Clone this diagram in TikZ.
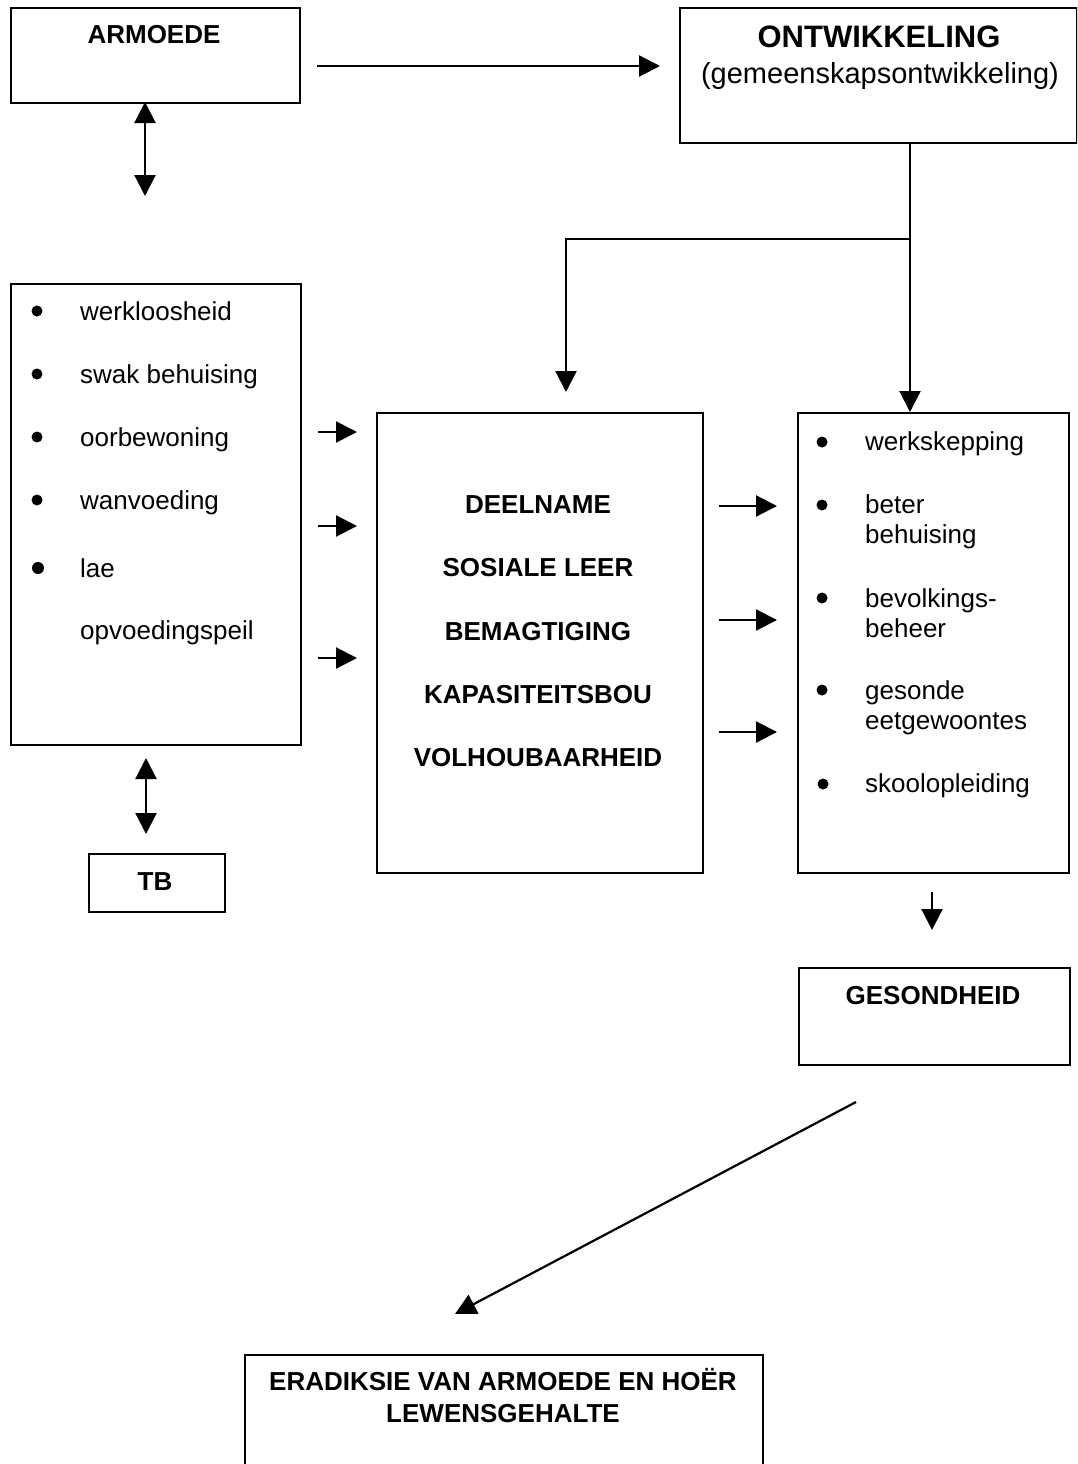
\documentclass[tikz,border=0pt]{standalone}
\usepackage{fontspec}
\setmainfont{Liberation Sans}
\usetikzlibrary{arrows.meta}
\begin{document}
\begin{tikzpicture}[x=1pt,y=-1pt,
  box/.style={draw, line width=2.3pt, inner sep=0pt, anchor=north west},
  txt/.style={font=\fontsize{26}{30}\selectfont, inner sep=0pt},
  btxt/.style={font=\fontsize{26}{30}\selectfont\bfseries, inner sep=0pt},
  bul/.style={circle, fill, inner sep=0pt, minimum size=11pt},
  arr/.style={line width=2.2pt, -{Triangle[length=21pt,width=21pt]}},
  darr/.style={line width=2.2pt, {Triangle[length=21pt,width=21pt]}-{Triangle[length=21pt,width=21pt]}},
]
\useasboundingbox (0,0) rectangle (1077,1464);
\clip (0,0) rectangle (1077,1464);
\fill[white] (0,0) rectangle (1077,1464);

% boxes
\node[box, minimum width=289pt, minimum height=95pt] (armoede) at (10,7) {};
\node[box, minimum width=397pt, minimum height=135pt] (ontw) at (679,7) {};
\node[box, minimum width=290pt, minimum height=461pt] (list) at (10,283) {};
\node[box, minimum width=326pt, minimum height=460pt] (mid) at (376,412) {};
\node[box, minimum width=271pt, minimum height=460pt] (right) at (797,412) {};
\node[box, minimum width=136pt, minimum height=58pt] (tb) at (88,853) {};
\node[box, minimum width=271pt, minimum height=97pt] (ges) at (798,967) {};
\node[box, minimum width=518pt, minimum height=200pt] (erad) at (244,1354) {};

% box titles
\node[btxt, anchor=base] (tA) at (154,44) {ARMOEDE};
\node[font=\fontsize{31}{36}\selectfont\bfseries, inner sep=0pt, anchor=base] (tO) at (879,48) {ONTWIKKELING};
\node[font=\fontsize{29}{34}\selectfont, inner sep=0pt, anchor=base] (tO2) at (880,83) {(gemeenskapsontwikkeling)};
\node[btxt, anchor=base] (tTB) at (155,890) {TB};
\node[btxt, anchor=base] (tG) at (933,1004) {GESONDHEID};
\node[btxt, anchor=base] (tE1) at (503,1390) {ERADIKSIE VAN ARMOEDE EN HOËR};
\node[btxt, anchor=base] (tE2) at (503,1422) {LEWENSGEHALTE};

% left list
\node[bul] (b1) at (37,311) {};
\node[bul] (b2) at (37,374) {};
\node[bul] (b3) at (37,437) {};
\node[bul] (b4) at (37,500) {};
\node[bul, minimum size=12pt] (b5) at (38,568) {};
\node[txt, anchor=base west] (l1) at (80,320) {werkloosheid};
\node[txt, anchor=base west] (l2) at (80,383) {swak behuising};
\node[txt, anchor=base west] (l3) at (80,446) {oorbewoning};
\node[txt, anchor=base west] (l4) at (80,509) {wanvoeding};
\node[txt, anchor=base west] (l5) at (80,577) {lae};
\node[txt, anchor=base west] (l6) at (80,639) {opvoedingspeil};

% middle list
\node[btxt, anchor=base] (m1) at (538,513) {DEELNAME};
\node[btxt, anchor=base] (m2) at (538,576) {SOSIALE LEER};
\node[btxt, anchor=base] (m3) at (538,640) {BEMAGTIGING};
\node[btxt, anchor=base] (m4) at (538,703) {KAPASITEITSBOU};
\node[btxt, anchor=base] (m5) at (538,766) {VOLHOUBAARHEID};

% right list
\node[bul] (r1) at (822,442) {};
\node[bul] (r2) at (822,505) {};
\node[bul] (r3) at (822,598) {};
\node[bul] (r4) at (822,690) {};
\node[bul] (r5) at (823,784) {};
\node[txt, anchor=base west] (rt1) at (865,450) {werkskepping};
\node[txt, anchor=base west] (rt2) at (865,513) {beter};
\node[txt, anchor=base west] (rt2b) at (865,543) {behuising};
\node[txt, anchor=base west] (rt3) at (865,607) {bevolkings-};
\node[txt, anchor=base west] (rt3b) at (865,637) {beheer};
\node[txt, anchor=base west] (rt4) at (865,699) {gesonde};
\node[txt, anchor=base west] (rt4b) at (865,729) {eetgewoontes};
\node[txt, anchor=base west] (rt5) at (865,792) {skoolopleiding};

% connector end points
\coordinate (a1) at (317,66);
\coordinate (a2) at (660,66);
\coordinate (d1t) at (145,102);
\coordinate (d1b) at (145,196);
\coordinate (d2t) at (146,758);
\coordinate (d2b) at (146,834);
\coordinate (o1) at (910,142);
\coordinate (j) at (910,239);
\coordinate (mtip) at (566,392);
\coordinate (s1a) at (318,432);  \coordinate (s1b) at (357,432);
\coordinate (s2a) at (318,526);  \coordinate (s2b) at (357,526);
\coordinate (s3a) at (318,658);  \coordinate (s3b) at (357,658);
\coordinate (t1a) at (719,506);  \coordinate (t1b) at (777,506);
\coordinate (t2a) at (719,620);  \coordinate (t2b) at (777,620);
\coordinate (t3a) at (719,732);  \coordinate (t3b) at (777,732);
\coordinate (ga) at (932,892);   \coordinate (gb) at (932,930);
\coordinate (ea) at (856,1102);  \coordinate (eb) at (455,1314);

% connectors
\draw[arr] (a1) -- (a2);
\draw[darr] (d1t) -- (d1b);
\draw[darr] (d2t) -- (d2b);
\draw[line width=2.2pt] (o1) -- (j);
\draw[arr] (j) -| (mtip);
\draw[arr] (j) -- (right.north -| j);
\draw[arr] (s1a) -- (s1b);
\draw[arr] (s2a) -- (s2b);
\draw[arr] (s3a) -- (s3b);
\draw[arr] (t1a) -- (t1b);
\draw[arr] (t2a) -- (t2b);
\draw[arr] (t3a) -- (t3b);
\draw[arr] (ga) -- (gb);
\draw[arr] (ea) -- (eb);
\end{tikzpicture}
\end{document}
